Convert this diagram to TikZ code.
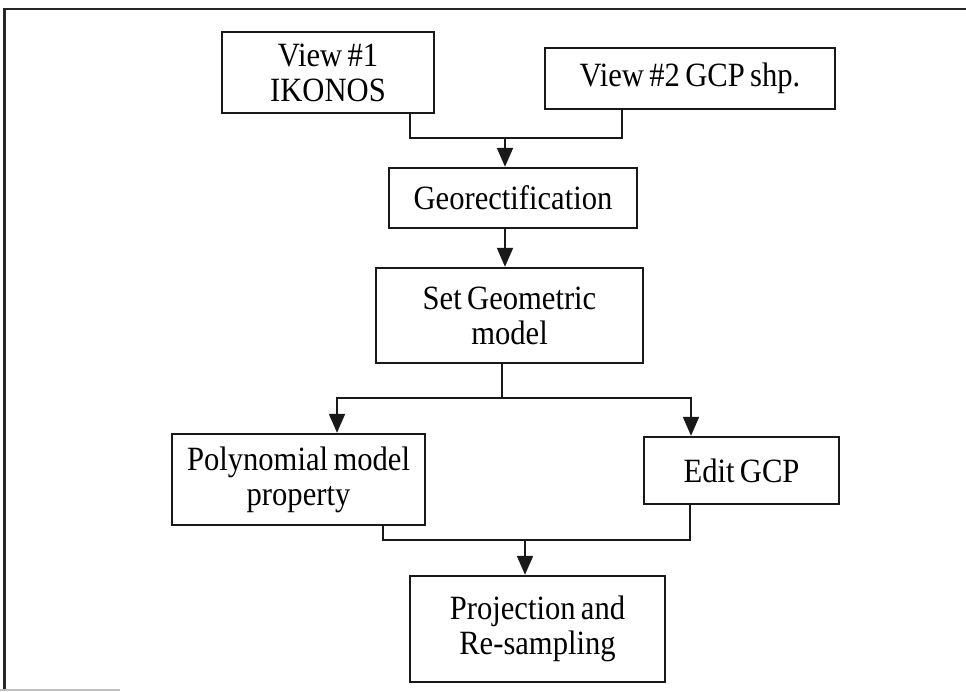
\documentclass[tikz,border=0pt]{standalone}
\usepackage{fontspec}
\setmainfont{Liberation Serif}[FakeStretch=0.9, WordSpace=0.7]
\usetikzlibrary{arrows.meta,calc}
\begin{document}
\begin{tikzpicture}[x=1pt,y=-1pt,
  box/.style={draw=black!90, line width=2.4pt, inner sep=0pt, align=center,
    font=\fontsize{34}{35}\selectfont},
  conn/.style={draw=black!90, line width=2pt},
  arr/.style={conn, -{Triangle[length=19pt,width=16pt]}}]
\useasboundingbox (0,0) rectangle (966,691);

% outer frame
\draw[black!85, line width=2.2pt] (4.5,691) -- (4.5,9) -- (966,9);
\draw[black!25, line width=1.5pt] (0,690) -- (120,690);

% process boxes
\node[box, minimum width=212pt, minimum height=81pt] (v1) at (328,72.5) {View \#1\\IKONOS};
\node[box, minimum width=290pt, minimum height=61pt] (v2) at (690,78.5) {View \#2 GCP shp.};
\node[box, minimum width=248pt, minimum height=60pt] (geo) at (513,198) {Georectification};
\node[box, minimum width=267pt, minimum height=95pt] (sgm) at (509.5,315.5) {Set Geometric\\model};
\node[box, minimum width=253pt, minimum height=91pt] (poly) at (298.5,479.5) {Polynomial model\\property};
\node[box, minimum width=195pt, minimum height=67pt] (edit) at (741.5,470.5) {Edit GCP};
\node[box, minimum width=255pt, minimum height=106pt] (proj) at (537.5,629) {Projection and\\Re-sampling};

% junction points
\coordinate (j1) at (505,138);
\coordinate (j2) at (502,398);
\coordinate (pl) at (337,398);
\coordinate (pr) at (691,398);
\coordinate (ml) at (383,540);
\coordinate (mr) at (690,540);
\coordinate (j3) at (525,540);

% both views merge into georectification
\draw[conn] (v1.south west) ++(189,0) |- (j1) -| ($(v2.south west)+(78,0)$);
\draw[arr] (j1) -- (geo.north -| j1);
\draw[arr] (geo.south -| j1) -- (sgm.north -| j1);

% split into the two branches
\draw[conn] (sgm.south -| j2) -- (j2);
\draw[arr] (j2) -- (pl) -- (pl |- poly.north);
\draw[arr] (j2) -- (pr) -- (pr |- edit.north);

% branches merge into projection
\draw[conn] (poly.south -| ml) -- (ml) -- (mr) -- (edit.south -| mr);
\draw[arr] (j3) -- (proj.north -| j3);
\end{tikzpicture}
\end{document}
